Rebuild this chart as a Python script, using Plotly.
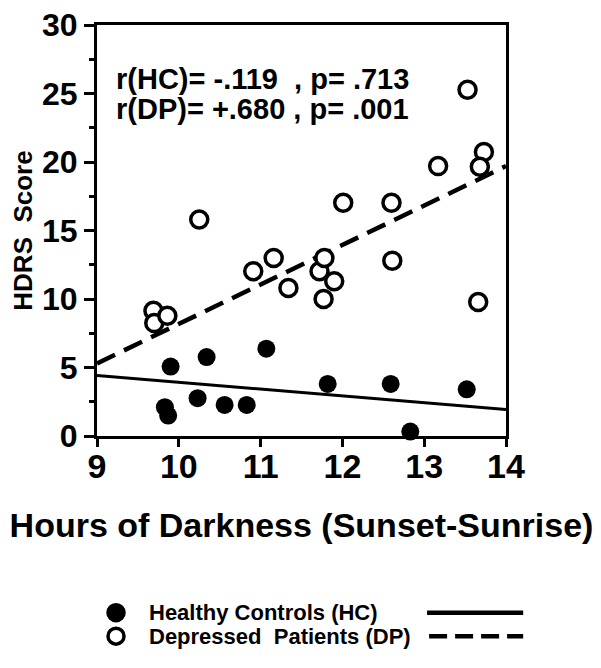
import plotly.graph_objects as go

# Healthy controls (filled circles)
hc_hours = [9.90, 9.83, 9.87, 10.23, 10.34, 10.56, 10.83, 11.07, 11.82, 12.59, 12.83, 13.52]
hc_score = [5.07, 2.10, 1.49, 2.76, 5.76, 2.27, 2.27, 6.37, 3.80, 3.80, 0.32, 3.41]

# Depressed patients (open circles)
dp_hours = [9.69, 9.70, 9.86, 10.25, 10.91, 11.16, 11.34, 11.72, 11.78, 11.77,
            11.90, 12.01, 12.60, 12.61, 13.17, 13.53, 13.73, 13.68, 13.66]
dp_score = [9.15, 8.24, 8.78, 15.8, 12.02, 13.0, 10.8, 12.02, 13.0, 10.0,
            11.29, 17.02, 17.02, 12.8, 19.7, 25.27, 20.73, 19.66, 9.78]

# regression lines
fit_x = [9, 14]
hc_fit = [4.41, 1.94]
dp_fit = [5.3, 19.7]

x_ticks = [9, 10, 11, 12, 13, 14]
y_ticks = [0, 5, 10, 15, 20, 25, 30]

FONT = "Liberation Sans, Arial, sans-serif"
BOLD = dict(family=FONT, color="black", weight="bold")

fig = go.Figure()
fig.add_trace(go.Scatter(x=fit_x, y=hc_fit, mode="lines",
                         line=dict(color="black", width=3), showlegend=False))
fig.add_trace(go.Scatter(x=fit_x, y=dp_fit, mode="lines",
                         line=dict(color="black", width=4.5, dash="20px,10px"),
                         showlegend=False))
fig.add_trace(go.Scatter(x=hc_hours, y=hc_score, mode="markers", cliponaxis=False,
                         marker=dict(color="black", size=18, line=dict(width=0)),
                         showlegend=False))
fig.add_trace(go.Scatter(x=dp_hours, y=dp_score, mode="markers", cliponaxis=False,
                         marker=dict(color="white", size=17,
                                     line=dict(color="black", width=3.5)),
                         showlegend=False))

# correlation text
fig.add_annotation(x=0.042, y=0.868, xref="paper", yref="paper", xanchor="left",
                   yanchor="middle", showarrow=False,
                   text="r(HC)= -.119\u00a0\u00a0, p= .713", font=dict(size=29, **BOLD))
fig.add_annotation(x=0.042, y=0.795, xref="paper", yref="paper", xanchor="left",
                   yanchor="middle", showarrow=False,
                   text="r(DP)= +.680 , p= .001", font=dict(size=29, **BOLD))

# legend built by hand: marker, label, line sample
leg_rows = [
    ("Healthy Controls (HC)", -0.430, "black", "solid"),
    ("Depressed\u00a0\u00a0Patients (DP)", -0.487, "white", "dash"),
]
for label, yp, fill, dash in leg_rows:
    fig.add_shape(type="circle", xref="paper", yref="paper",
                  xsizemode="pixel", ysizemode="pixel", xanchor=0.0465, yanchor=yp,
                  x0=-8, x1=8, y0=-8, y1=8, fillcolor=fill,
                  line=dict(color="black", width=3.5))
    fig.add_annotation(x=0.125, y=yp, xref="paper", yref="paper", xanchor="left",
                       yanchor="middle", showarrow=False, text=label, borderpad=0,
                       font=dict(size=22, **BOLD))
    fig.add_shape(type="line", xref="paper", yref="paper",
                  x0=0.807 if dash == "solid" else 0.812, x1=1.042, y0=yp, y1=yp,
                  line=dict(color="black", width=4.5,
                            dash="solid" if dash == "solid" else "18px,8px"))

fig.update_xaxes(range=[9, 14], tickvals=x_ticks, ticks="outside", ticklen=8,
                 tickwidth=3, tickcolor="black", showline=True, linewidth=3,
                 linecolor="black", mirror=True, showgrid=False, zeroline=False,
                 automargin=False, ticklabelstandoff=-10, ticklabeloverflow="allow",
                 tickfont=dict(size=34, **BOLD),
                 title=dict(text="Hours of Darkness (Sunset-Sunrise)",
                            font=dict(size=34, **BOLD), standoff=30))
fig.update_yaxes(range=[0, 30], tickvals=y_ticks, ticks="outside", ticklen=10,
                 tickwidth=3, tickcolor="black", showline=True, linewidth=3,
                 linecolor="black", mirror=True, showgrid=False, zeroline=False,
                 automargin=False, ticklabeloverflow="allow",
                 minor=dict(dtick=2.5, ticks="outside", ticklen=5, tickwidth=3,
                            tickcolor="black", showgrid=False),
                 tickfont=dict(size=32, **BOLD),
                 title=dict(text="HDRS\u00a0\u00a0Score", font=dict(size=26, **BOLD),
                            standoff=6))

# the page body adds an 8px offset, so the margins are shifted to compensate
fig.update_layout(
    width=601, height=668,
    margin=dict(l=89, r=103, t=17, b=240),
    paper_bgcolor="white", plot_bgcolor="white",
    showlegend=False,
)

fig.write_html("out.html")
